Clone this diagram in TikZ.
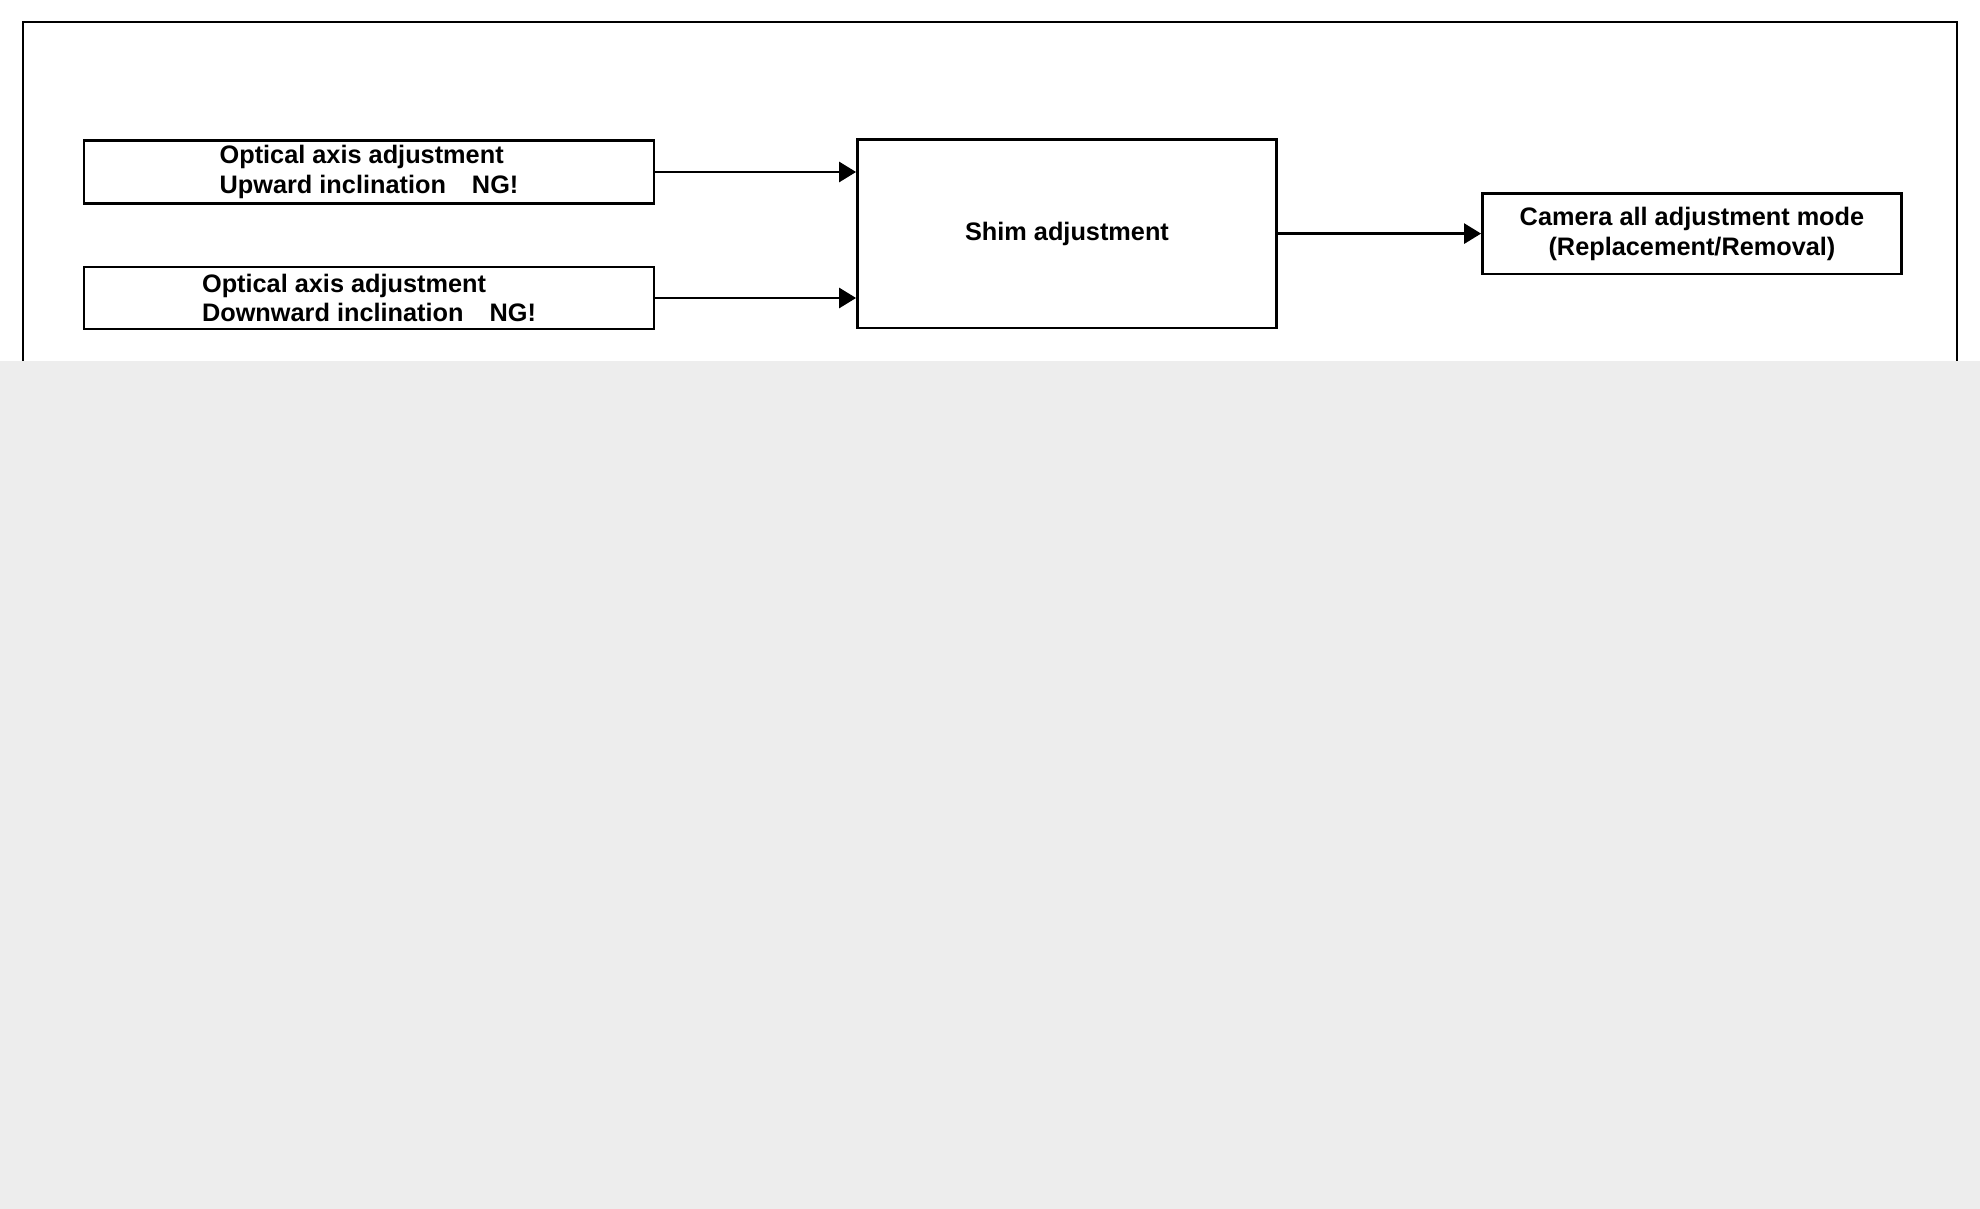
\documentclass[tikz,border=0pt]{standalone}
\usepackage{fontspec}
\setmainfont{Liberation Sans}
\usetikzlibrary{arrows.meta}

\begin{document}
\begin{tikzpicture}[x=0.1mm, y=-0.1mm, line width=0.8pt,
	box/.style={draw, line width=0.8pt, inner sep=0pt, align=left,
		font=\bfseries\fontsize{7.2}{8.5}\selectfont},
	flow/.style={-{Triangle[length=1.7mm, width=2mm]}, line width=0.8pt}]
\useasboundingbox (0, 0) rectangle (1980, 1209);
\fill[white] (0, 0) rectangle (1980, 361);
\draw (23, 361) |- (1957, 22) -- (1957, 361);

\node[box, minimum width=57mm, minimum height=6.3mm] (up) at (369, 172)
	{Optical axis adjustment\\Upward inclination\hspace{2.6mm}NG!};
\node[box, minimum width=57mm, minimum height=6.2mm] (down) at (369, 298)
	{Optical axis adjustment\\Downward inclination\hspace{2.6mm}NG!};
\node[box, minimum width=41.9mm, minimum height=18.9mm] (shim) at (1067, 233.6)
	{Shim adjustment};
\node[box, align=center, minimum width=41.9mm, minimum height=8.1mm] (cam) at (1692, 233.6)
	{Camera all adjustment mode\\(Replacement/Removal)};

\draw[flow] (up.east) -- (up.east -| shim.west);
\draw[flow] (down.east) -- (down.east -| shim.west);
\draw[flow] (shim.east) -- (cam.west);

\fill[black!7] (0, 361) rectangle (1980, 1209);
\end{tikzpicture}
\end{document}
